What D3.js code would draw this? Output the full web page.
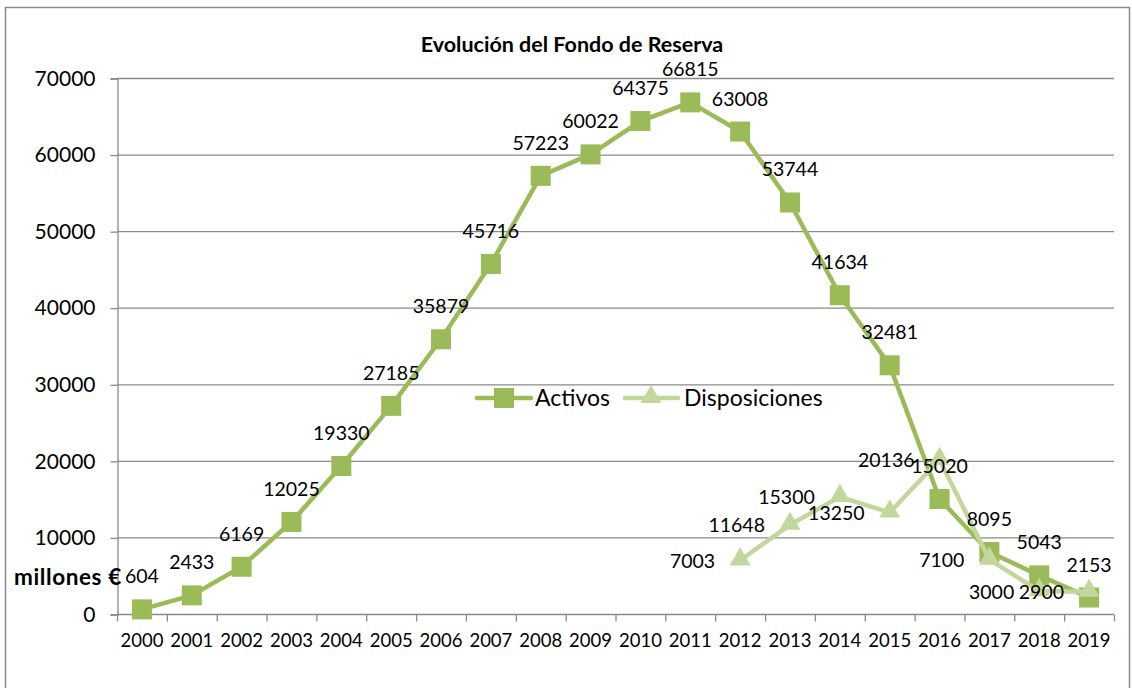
<!DOCTYPE html>
<html>
<head>
<meta charset="utf-8">
<script src="https://cdnjs.cloudflare.com/ajax/libs/d3/7.8.5/d3.min.js"></script>
<style>
  body { margin: 0; background: #fff; }
  text { font-family: Lato, "Open Sans", sans-serif; fill: #000; }
</style>
</head>
<body>
<script>
// chart data
var years = ["2000","2001","2002","2003","2004","2005","2006","2007","2008","2009",
             "2010","2011","2012","2013","2014","2015","2016","2017","2018","2019"];
var activos = [604, 2433, 6169, 12025, 19330, 27185, 35879, 45716, 57223, 60022,
               64375, 66815, 63008, 53744, 41634, 32481, 15020, 8095, 5043, 2153];
var dispYears = ["2012","2013","2014","2015","2016","2017","2018","2019"];
var disposiciones = [7003, 11648, 15300, 13250, 20136, 7100, 3000, 2900];
var yTicks = [0, 10000, 20000, 30000, 40000, 50000, 60000, 70000];

var W = 1132, H = 688;
var green = "#9bbb59", light = "#c3d69b", grid = "#8a8a8a";

var svg = d3.select("body").append("svg").attr("width", W).attr("height", H);

// outer chart frame
svg.append("rect").attr("x", 5.5).attr("y", 7.5).attr("width", 1124).attr("height", 700)
  .attr("fill", "none").attr("stroke", grid).attr("stroke-width", 1.5);

var x = d3.scaleBand().domain(years).range([117, 1114]);
var y = d3.scaleLinear().domain([0, 70000]).range([614, 78]);

// gridlines
svg.append("g").selectAll("line").data(yTicks.slice(1)).enter().append("line")
  .attr("x1", 117).attr("x2", 1114)
  .attr("y1", function (d) { return y(d) + 0.5; }).attr("y2", function (d) { return y(d) + 0.5; })
  .attr("stroke", grid).attr("stroke-width", 1.3);

// y axis
var yAxis = svg.append("g").attr("transform", "translate(117.5,0.5)")
  .call(d3.axisLeft(y).tickValues(yTicks).tickSize(7).tickPadding(15).tickFormat(d3.format("d")));
yAxis.selectAll("line,path").attr("stroke", grid).attr("stroke-width", 1.3);
yAxis.selectAll("text").style("font-size", "21px").style("font-family", "Lato, sans-serif");

// x axis, ticks between categories
var xAxis = svg.append("g").attr("transform", "translate(0," + (y(0) + 0.5) + ")");
xAxis.append("line").attr("x1", 117).attr("x2", 1114).attr("stroke", grid).attr("stroke-width", 1.3);
xAxis.selectAll("line.tk").data(years.concat(["end"])).enter().append("line")
  .attr("class", "tk")
  .attr("x1", function (d, i) { return 117.5 + i * x.step(); })
  .attr("x2", function (d, i) { return 117.5 + i * x.step(); })
  .attr("y1", 0).attr("y2", 7).attr("stroke", grid).attr("stroke-width", 1.3);
xAxis.selectAll("text").data(years).enter().append("text")
  .attr("x", function (d) { return x(d) + x.bandwidth() / 2; })
  .attr("y", 32.5).attr("text-anchor", "middle").style("font-size", "18.5px")
  .text(function (d) { return d; });

var cx = function (d) { return x(d) + x.bandwidth() / 2; };
var line = d3.line().x(function (d) { return cx(d[0]); }).y(function (d) { return y(d[1]); });

var actData = years.map(function (d, i) { return [d, activos[i]]; });
var dispData = dispYears.map(function (d, i) { return [d, disposiciones[i]]; });
var tri = d3.symbol().type(d3.symbolTriangle).size(190);

// Activos
svg.append("path").datum(actData).attr("d", line).attr("fill", "none")
  .attr("stroke", green).attr("stroke-width", 4.5).attr("stroke-linejoin", "round");
svg.selectAll("rect.sq").data(actData).enter().append("rect").attr("class", "sq")
  .attr("x", function (d) { return cx(d[0]) - 10; }).attr("y", function (d) { return y(d[1]) - 10; })
  .attr("width", 20).attr("height", 20).attr("fill", green);

// Disposiciones
svg.append("path").datum(dispData).attr("d", line).attr("fill", "none")
  .attr("stroke", light).attr("stroke-width", 4.5).attr("stroke-linejoin", "round");
svg.selectAll("path.tri").data(dispData).enter().append("path").attr("class", "tri")
  .attr("d", tri).attr("fill", light)
  .attr("transform", function (d) { return "translate(" + cx(d[0]) + "," + (y(d[1]) - 1) + ")"; });

// data labels
svg.selectAll("text.la").data(actData).enter().append("text").attr("class", "la")
  .attr("x", function (d) { return cx(d[0]); }).attr("y", function (d) { return y(d[1]) - 26; })
  .attr("text-anchor", "middle").style("font-size", "19.5px")
  .text(function (d) { return d[1]; });
svg.selectAll("text.ld").data(dispData).enter().append("text").attr("class", "ld")
  .attr("x", function (d) { return cx(d[0]) - 25; }).attr("y", function (d) { return y(d[1]) + 7.5; })
  .attr("text-anchor", "end").style("font-size", "19.5px")
  .text(function (d) { return d[1]; });

// title and axis label
svg.append("text").attr("x", 572).attr("y", 52).attr("text-anchor", "middle")
  .style("font-size", "21.5px").style("font-weight", "bold").text("Evolución del Fondo de Reserva");
svg.append("text").attr("x", 14).attr("y", 585)
  .style("font-size", "22.5px").style("font-weight", "bold").style("letter-spacing", "0.6px").text("millones €");

// legend
var lg = svg.append("g").attr("transform", "translate(0,398)");
lg.append("line").attr("x1", 477).attr("x2", 531).attr("stroke", green).attr("stroke-width", 4.5).attr("stroke-linecap", "round");
lg.append("rect").attr("x", 494).attr("y", -10).attr("width", 20).attr("height", 20).attr("fill", green);
lg.append("text").attr("x", 535).attr("y", 8).style("font-size", "23px").text("Activos");
lg.append("line").attr("x1", 625).attr("x2", 678).attr("stroke", light).attr("stroke-width", 4.5).attr("stroke-linecap", "round");
lg.append("path").attr("d", tri).attr("fill", light).attr("transform", "translate(651,-1)");
lg.append("text").attr("x", 684).attr("y", 8).style("font-size", "23px").text("Disposiciones");
</script>
</body>
</html>
